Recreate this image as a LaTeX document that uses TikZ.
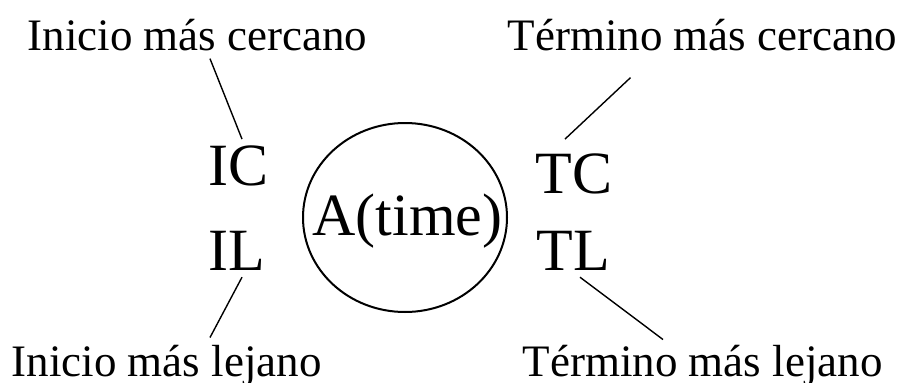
\documentclass[tikz,border=0pt]{standalone}
\usepackage{fontspec}
\setmainfont{LiberationSerif-Regular.ttf}
\usetikzlibrary{calc}

\begin{document}
\begin{tikzpicture}[x=1pt,y=-1pt,
  lbl/.style={font=\fontsize{45}{54}\selectfont,inner sep=0pt,anchor=base},
  code/.style={font=\fontsize{60}{72}\selectfont,inner sep=0pt,anchor=base},
  leader/.style={line width=1.4pt}]
\useasboundingbox (0,0) rectangle (903,383);
% the activity
\coordinate (mid) at (405,217.5);
\draw[line width=2pt] (mid) ellipse [x radius=102,y radius=94.5];
\node (atime) at (407.5,235) [code] {A(time)};
% start and finish times
\node (ic) at (238.5,185) [code] {IC};
\node (il) at (236.5,270) [code] {IL};
\node (tc) at (574,193) [code] {TC};
\node (tl) at (573,270) [code] {TL};
% labels
\node (inicioC) at (197.5,50) [lbl] {Inicio más cercano};
\node (terminoC) at (702.5,50) [lbl] {Término más cercano};
\node (inicioL) at (166.5,376) [lbl] {Inicio más lejano};
\node (terminoL) at (702.5,376) [lbl] {Término más lejano};
\draw[leader] ($(ic.north)+(3.5,-6)$) -- ($(inicioC.south)+(12.5,8)$);
\draw[leader] ($(tc.north)+(-9,-14)$) -- ($(terminoC.south)+(-72,27)$);
\draw[leader] ($(il.south)+(5.5,7)$) -- ($(inicioL.north)+(43.5,-7)$);
\draw[leader] ($(tl.south)+(7,7)$) -- ($(terminoL.north)+(-39.5,-5)$);
\end{tikzpicture}
\end{document}
